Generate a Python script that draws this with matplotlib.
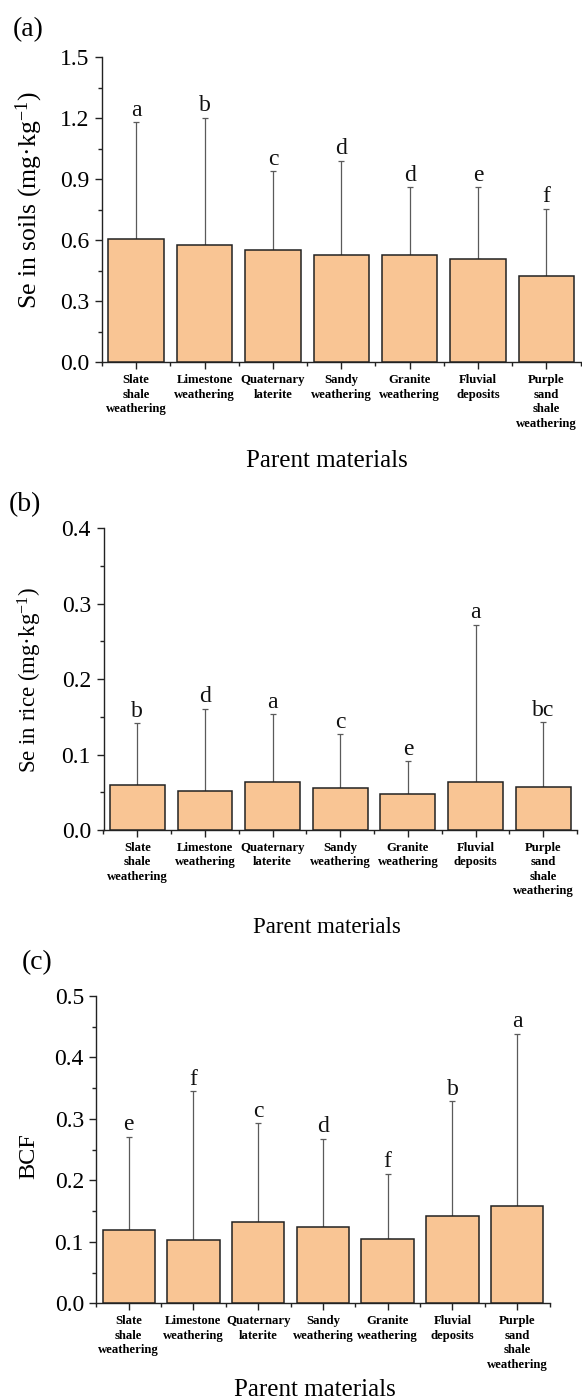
import matplotlib
matplotlib.use("Agg")
import matplotlib.pyplot as plt
import numpy as np
from matplotlib.ticker import MultipleLocator, FixedLocator, FormatStrFormatter

plt.rcParams['font.family'] = ['Liberation Serif', 'DejaVu Serif']
plt.rcParams['mathtext.fontset'] = 'custom'
plt.rcParams['mathtext.rm'] = 'Liberation Serif'
plt.rcParams['mathtext.it'] = 'Liberation Serif:italic'

categories = ["Slate\nshale\nweathering", "Limestone\nweathering", "Quaternary\nlaterite",
              "Sandy\nweathering", "Granite\nweathering", "Fluvial\ndeposits",
              "Purple\nsand\nshale\nweathering"]

# (a) Se in soils
soil_mean = [0.606, 0.577, 0.554, 0.528, 0.528, 0.507, 0.426]
soil_top = [1.182, 1.203, 0.941, 0.992, 0.861, 0.860, 0.756]
soil_letters = ["a", "b", "c", "d", "d", "e", "f"]

# (b) Se in rice
rice_mean = [0.0592, 0.0522, 0.0632, 0.0552, 0.0477, 0.0641, 0.0566]
rice_top = [0.1414, 0.1609, 0.1538, 0.1273, 0.0910, 0.2723, 0.1428]
rice_letters = ["b", "d", "a", "c", "e", "a", "bc"]

# (c) BCF
bcf_mean = [0.1193, 0.1036, 0.1318, 0.1242, 0.1052, 0.1421, 0.1589]
bcf_top = [0.2711, 0.3449, 0.2928, 0.2679, 0.2110, 0.3286, 0.4387]
bcf_letters = ["e", "f", "c", "d", "f", "b", "a"]

W, H = 582, 1400
fig = plt.figure(figsize=(W / 100, H / 100), dpi=100)

BAR_COLOR = "#F9C594"

panels = [
    dict(rect=(102, 57.3, 580.6, 362.3), mean=soil_mean, top=soil_top, letters=soil_letters,
         ylim=1.5, major=0.3, minor=0.15, ylabel="Se in soils (mg·kg$^{-1}$)", ylsize=18.5,
         ylpos=(29, 200), tag="(a)", tagpos=(28, 30), xlsize=18, xlpos=(327, 466.7)),
    dict(rect=(103.5, 528.3, 577, 830), mean=rice_mean, top=rice_top, letters=rice_letters,
         ylim=0.4, major=0.1, minor=0.05, ylabel="Se in rice (mg·kg$^{-1}$)", ylsize=16.5,
         ylpos=(30, 680), tag="(b)", tagpos=(25, 505), xlsize=16.5, xlpos=(327, 933)),
    dict(rect=(96.4, 996, 549.5, 1303.3), mean=bcf_mean, top=bcf_top, letters=bcf_letters,
         ylim=0.5, major=0.1, minor=0.05, ylabel="BCF", ylsize=17.5,
         ylpos=(29, 1156), tag="(c)", tagpos=(37, 963), xlsize=18, xlpos=(315, 1396)),
]

x = np.arange(len(categories))
for p in panels:
    l, t, r, b = p["rect"]
    ax = fig.add_axes([l / W, 1 - b / H, (r - l) / W, (b - t) / H])
    mean = np.array(p["mean"])
    top = np.array(p["top"])
    ax.errorbar(x, mean, yerr=[np.zeros_like(mean), top - mean], fmt='none',
                ecolor="#5a5a5a", elinewidth=0.9, capsize=2.3, capthick=0.9, zorder=2)
    ax.bar(x, mean, width=0.81, color=BAR_COLOR, edgecolor="#222222", linewidth=1.1, zorder=3)
    for xi, ti, lab in zip(x, top, p["letters"]):
        ax.annotate(lab, (xi, ti), xytext=(0, 4.5), textcoords='offset points',
                    ha='center', va='baseline', fontsize=17, color="#111111")
    ax.set_xlim(-0.5, len(categories) - 0.5)
    ax.set_ylim(0, p["ylim"])
    ax.yaxis.set_major_locator(MultipleLocator(p["major"]))
    ax.yaxis.set_minor_locator(MultipleLocator(p["minor"]))
    ax.yaxis.set_major_formatter(FormatStrFormatter('%.1f'))
    ax.set_xticks(x)
    ax.set_xticklabels(categories, fontsize=9.2, fontweight='bold', linespacing=1.28)
    ax.xaxis.set_minor_locator(FixedLocator(np.arange(-0.5, len(categories), 1.0)))
    for s in ("top", "right"):
        ax.spines[s].set_visible(False)
    for s in ("left", "bottom"):
        ax.spines[s].set_linewidth(1.0)
        ax.spines[s].set_color("#222222")
    ax.tick_params(axis='both', which='major', direction='out', length=5, width=1.0,
                   color="#222222")
    ax.tick_params(axis='both', which='minor', direction='out', length=2.6, width=1.0,
                   color="#222222")
    ax.tick_params(axis='y', which='major', labelsize=17, pad=4)
    ax.tick_params(axis='x', which='major', pad=3.5)
    fig.text(p["ylpos"][0] / W, 1 - p["ylpos"][1] / H, p["ylabel"], rotation=90,
             ha='center', va='center', fontsize=p["ylsize"])
    fig.text(p["xlpos"][0] / W, 1 - p["xlpos"][1] / H, "Parent materials",
             ha='center', va='baseline', fontsize=p["xlsize"])
    fig.text(p["tagpos"][0] / W, 1 - p["tagpos"][1] / H, p["tag"],
             ha='center', va='center', fontsize=20)

fig.savefig("out.png", dpi=100)
